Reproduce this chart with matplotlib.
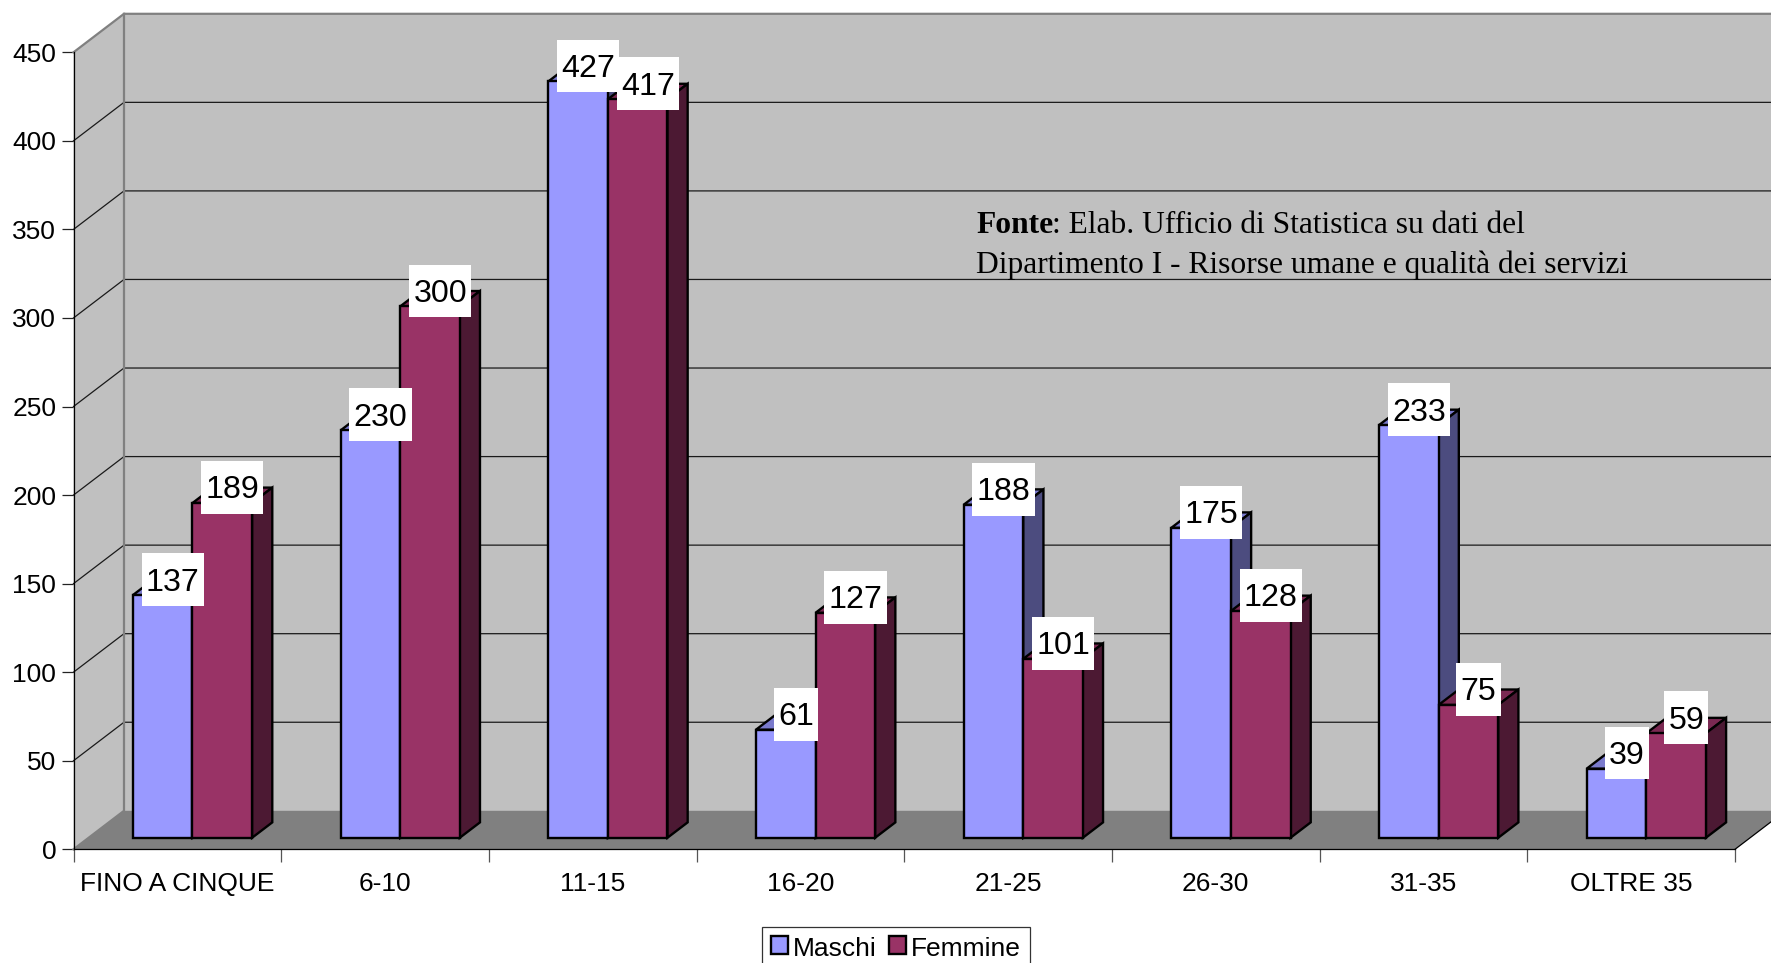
import matplotlib
matplotlib.use("Agg")
import matplotlib.pyplot as plt
from matplotlib.patches import Polygon, Patch
from matplotlib.path import Path

plt.rcParams["font.family"] = ["Liberation Sans", "DejaVu Sans"]

categories = ["FINO A CINQUE", "6-10", "11-15", "16-20", "21-25", "26-30", "31-35", "OLTRE 35"]
maschi = [137, 230, 427, 61, 188, 175, 233, 39]
femmine = [189, 300, 417, 127, 101, 128, 75, 59]
y_ticks = [0, 50, 100, 150, 200, 250, 300, 350, 400, 450]

W, H = 1771, 963
fig = plt.figure(figsize=(W / 100, H / 100), dpi=100, facecolor="white")

# Front plane of the 3D box: categories along x, values along y
left_px, right_px, base_px, top_px = 73.5, 1735.0, 849.3, 52.3
ax = fig.add_axes([left_px / W, 1 - base_px / H, (right_px - left_px) / W, (base_px - top_px) / H])
ax.set_xlim(0, len(categories))
ax.set_ylim(0, 450)
ax.patch.set_visible(False)
ax.set_axisbelow(True)

# Oblique depth of the box, in data units
x_per_px = len(categories) / (right_px - left_px)
y_per_px = 450 / (base_px - top_px)
DEPTH_X = 50.5 * x_per_px
DEPTH_Y = 38.5 * y_per_px
BAR_W = 59.6 * x_per_px
Z_FRONT, Z_BACK = 0.30, 0.70
BAR_LW = 1.7


def proj(x, y, z):
    return (x + z * DEPTH_X, y + z * DEPTH_Y)


def face(points, color, zorder, edge="none", lw=0.0):
    ax.add_patch(Polygon([proj(*p) for p in points], closed=True, facecolor=color,
                         edgecolor=edge, linewidth=lw, zorder=zorder, clip_on=False,
                         joinstyle="miter"))


n = len(categories)
WALL, FLOOR, GRID_EDGE = "#c0c0c0", "#808080", "#808080"

# Walls and floor
face([(0, 0, 0), (0, 0, 1), (0, 450, 1), (0, 450, 0)], WALL, 1)
face([(0, 0, 1), (n, 0, 1), (n, 450, 1), (0, 450, 1)], WALL, 1)
face([(0, 0, 0), (n, 0, 0), (n, 0, 1), (0, 0, 1)], FLOOR, 1.2)

# Gridlines run along the side wall, then across the back wall
for v in y_ticks[1:-1]:
    pts = [proj(0, v, 0), proj(0, v, 1), proj(n, v, 1)]
    ax.plot(*zip(*pts), color="#1a1a1a", lw=0.9, zorder=1.5, clip_on=False)
top_line = [proj(0, 450, 0), proj(0, 450, 1), proj(n, 450, 1)]
ax.plot(*zip(*top_line), color=GRID_EDGE, lw=1.6, zorder=1.5, clip_on=False)
back_edge = [proj(0, 0, 0), proj(0, 0, 1), proj(0, 450, 1)]
ax.plot(*zip(*back_edge), color=GRID_EDGE, lw=1.6, zorder=1.5, clip_on=False)
right_edge = [proj(n, 0, 0), proj(n, 0, 1)]
ax.plot(*zip(*right_edge), color="black", lw=0.9, zorder=1.5, clip_on=False)

# Axes
for side in ("top", "right"):
    ax.spines[side].set_visible(False)
for side in ("left", "bottom"):
    ax.spines[side].set_linewidth(0.9)
    ax.spines[side].set_zorder(1.6)
ax.set_yticks(y_ticks)
ax.tick_params(axis="y", length=9, width=0.9, pad=3.5, labelsize=19, color="#222222")
ax.set_xticks(range(n + 1))
ax.set_xticklabels([])
ax.tick_params(axis="x", which="major", length=9, width=0.9, color="#555555")
ax.set_xticks([i + 0.5 for i in range(n)], minor=True)
ax.set_xticklabels(categories, minor=True, fontsize=19)
ax.tick_params(axis="x", which="minor", length=0, pad=16.2)


def draw_bar(x0, v, front, side, top, zbase):
    x1 = x0 + BAR_W
    edge = dict(edge="black", lw=BAR_LW)
    face([(x0, v, Z_FRONT), (x1, v, Z_FRONT), (x1, v, Z_BACK), (x0, v, Z_BACK)], top, zbase, **edge)
    face([(x1, 0, Z_FRONT), (x1, 0, Z_BACK), (x1, v, Z_BACK), (x1, v, Z_FRONT)], side, zbase, **edge)
    sx, sy = proj(x0, 0, Z_FRONT)
    ax.bar(sx, v, width=BAR_W, bottom=sy, align="edge", color=front, edgecolor="black",
           linewidth=BAR_LW, zorder=zbase + 0.01, clip_on=False)


COL_M = ("#9999ff", "#4c4c7f", "#7a7acc")
COL_F = ("#993366", "#4c1933", "#7a2952")

for i in range(n):
    centre = i + 0.5
    draw_bar(centre - BAR_W, maschi[i], *COL_M, 2 + i * 0.1)
    draw_bar(centre, femmine[i], *COL_F, 2.05 + i * 0.1)


def value_box(x0, y0, width, height, mutation_size):
    # White label plate of fixed height around the digits
    pad_x, full_h = 4.2, 52.7
    cy = y0 + height / 2 + 3.0
    x_a, x_b = x0 - pad_x, x0 + width + pad_x
    y_a, y_b = cy - full_h / 2, cy + full_h / 2
    return Path([(x_a, y_a), (x_b, y_a), (x_b, y_b), (x_a, y_b), (x_a, y_a)], closed=True)


def value_label(x0, v):
    xy = proj(x0 + BAR_W / 2, v, (Z_FRONT + Z_BACK) / 2)
    ax.annotate(str(v), xy=xy, xytext=(0, 3.5), textcoords="offset points", ha="center",
                va="center", fontsize=23.2, color="black", zorder=10, annotation_clip=False,
                bbox=dict(boxstyle=value_box, facecolor="white", edgecolor="none"))


for i in range(n):
    centre = i + 0.5
    value_label(centre - BAR_W, maschi[i])
    value_label(centre, femmine[i])

# Source note
note_x = 976 / W
NOTE_SIZE = 22.65
fig.text(note_x, 1 - 233 / H, "Fonte", family="Liberation Serif", fontweight="bold", fontsize=NOTE_SIZE,
         va="baseline", zorder=11)
fig.text(note_x + 76 / W, 1 - 233 / H, ": Elab. Ufficio di Statistica su dati del",
         family="Liberation Serif", fontsize=NOTE_SIZE, va="baseline", zorder=11)
fig.text(note_x, 1 - 273.3 / H, "Dipartimento I - Risorse umane e qualità dei servizi",
         family="Liberation Serif", fontsize=NOTE_SIZE, va="baseline", zorder=11)

# Legend, its lower edge running past the bottom of the image
handles = [Patch(facecolor=COL_M[0], edgecolor="black", linewidth=BAR_LW, label="Maschi"),
           Patch(facecolor=COL_F[0], edgecolor="black", linewidth=BAR_LW, label="Femmine")]
leg = fig.legend(handles=handles, loc="upper left", bbox_to_anchor=(762.3 / W, 1 - 926.7 / H),
                 bbox_transform=fig.transFigure, ncol=2, fontsize=19, frameon=True,
                 fancybox=False, edgecolor="#333333", framealpha=1, borderaxespad=0,
                 borderpad=0.33, handlelength=0.64, handleheight=0.64, handletextpad=0.2,
                 columnspacing=0.46)
leg.get_frame().set_linewidth(0.9)
for label in leg.get_texts():
    label.set_y(-2)

fig.savefig("out.png", dpi=100, facecolor="white")
